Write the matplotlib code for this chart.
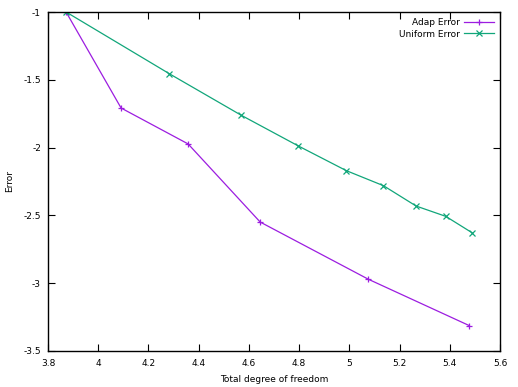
import numpy as np
import matplotlib
matplotlib.use('Agg')
import matplotlib.pyplot as plt

# Data
adap_x = [3.872, 4.091, 4.358, 4.645, 5.076, 5.478]
adap_y = [-1.0, -1.708, -1.973, -2.549, -2.971, -3.313]
unif_x = [3.872, 4.283, 4.570, 4.797, 4.988, 5.136, 5.266, 5.384, 5.488]
unif_y = [-1.0, -1.455, -1.762, -1.988, -2.170, -2.281, -2.431, -2.507, -2.627]

xticks = [3.8, 4.0, 4.2, 4.4, 4.6, 4.8, 5.0, 5.2, 5.4, 5.6]
xticklabels = ['3.8', '4', '4.2', '4.4', '4.6', '4.8', '5', '5.2', '5.4', '5.6']
yticks = [-3.5, -3.0, -2.5, -2.0, -1.5, -1.0]
yticklabels = ['-3.5', '-3', '-2.5', '-2', '-1.5', '-1']

plt.rcParams['font.family'] = ['DejaVu Sans']
plt.rcParams['font.size'] = 6.5

fig = plt.figure(figsize=(5.18, 3.87), dpi=100, facecolor='w')
ax1 = fig.add_axes([48/518, 36/387, 452/518, 339/387])

ax1.plot(adap_x, adap_y, color='#9c1de0', lw=0.9, marker='+', ms=5, mew=0.9, label='Adap Error')
ax1.plot(unif_x, unif_y, color='#11a67a', lw=0.9, marker='x', ms=4, mew=0.9, label='Uniform Error')

ax1.set_xlim(3.8, 5.6)
ax1.set_ylim(-3.5, -1.0)
ax1.set_xticks(xticks)
ax1.set_xticklabels(xticklabels)
ax1.set_yticks(yticks)
ax1.set_yticklabels(yticklabels)
ax1.tick_params(direction='in', length=5, width=0.8, top=True, right=True, pad=6)
ax1.tick_params(axis='y', pad=5)
for s in ax1.spines.values():
    s.set_linewidth(1.0)
ax1.set_xlabel('Total degree of freedom', labelpad=5)
ax1.set_ylabel('Error', labelpad=7)

ax1.legend(loc='upper right', frameon=False, markerfirst=False, handlelength=3.3,
           handletextpad=0.5, labelspacing=0.25, borderaxespad=0.3, fontsize=6.5)

plt.savefig('out.png', dpi=100)
